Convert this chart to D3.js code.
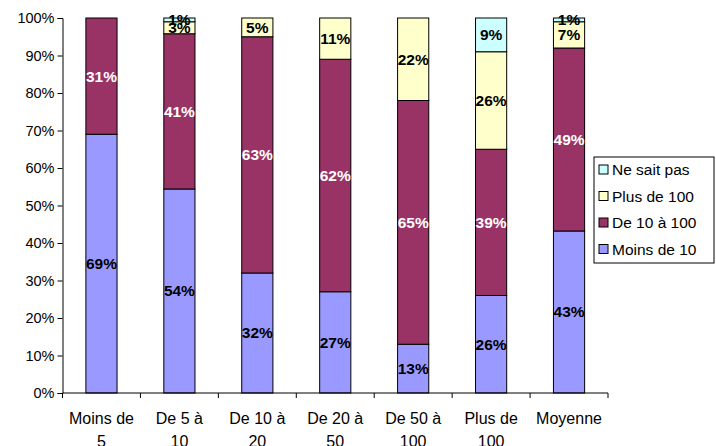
<!DOCTYPE html>
<html>
<head>
<meta charset="utf-8">
<script src="https://cdn.jsdelivr.net/npm/d3@7/dist/d3.min.js"></script>
<style>
  body { margin: 0; background: #fff; }
  svg { display: block; font-family: "Liberation Sans", Arial, sans-serif; }
</style>
</head>
<body>
<svg></svg>
<script>
// categories and series (percentages)
let categories = [["Moins de", "5"], ["De 5 à", "10"], ["De 10 à", "20"], ["De 20 à", "50"], ["De 50 à", "100"], ["Plus de", "100"], ["Moyenne", ""]];
let seriesNames = ["Moins de 10", "De 10 à 100", "Plus de 100", "Ne sait pas"];
let moinsDe10 = [69, 54.4, 32, 27, 13, 26, 43.2];
let de10a100 = [31, 41.4, 63, 62, 65, 39, 48.8];
let plusDe100 = [0, 3.2, 5, 11, 22, 26, 7];
let neSaitPas = [0, 1, 0, 0, 0, 9, 1];
let yTicks = [0, 10, 20, 30, 40, 50, 60, 70, 80, 90, 100];

let colors = ["#9999FF", "#993366", "#FFFFCC", "#CCFFFF"];
let textColors = ["#000", "#fff", "#000", "#000"];

let svgWidth = 716;
let svgHeight = 446;

let svg = d3.select("svg")
	.attr("width", svgWidth)
	.attr("height", svgHeight);

let x0 = 62.5, x1 = 608, yTop = 18, yBottom = 393;

let xScale = d3.scaleBand()
	.domain(d3.range(categories.length))
	.range([x0, x1])
	.paddingInner(0.6)
	.paddingOuter(0.3);

let yScale = d3.scaleLinear()
	.domain([0, 100])
	.range([yBottom, yTop]);

let allSeries = [moinsDe10, de10a100, plusDe100, neSaitPas];
let rows = categories.map(function (c, i) {
	let r = {};
	seriesNames.forEach(function (s, k) { r[s] = allSeries[k][i]; });
	r.i = i;
	return r;
});

let stacked = d3.stack().keys(seriesNames)(rows);

// bars
let groups = svg.selectAll("g.serie")
	.data(stacked)
	.enter()
	.append("g")
	.attr("class", "serie");

function segments(d, k) {
	return d.map(function (p) { p.k = k; return p; }).filter(function (p) { return p[1] - p[0] > 0; });
}

groups.selectAll("rect")
	.data(segments)
	.enter()
	.append("rect")
	.attr("x", function (d) { return xScale(d.data.i); })
	.attr("width", xScale.bandwidth())
	.attr("y", function (d) { return yScale(d[1]); })
	.attr("height", function (d) { return yScale(d[0]) - yScale(d[1]); })
	.attr("fill", function (d) { return colors[d.k]; })
	.attr("stroke", "#000")
	.attr("stroke-width", 1);

// labels
groups.selectAll("text")
	.data(segments)
	.enter()
	.append("text")
	.text(function (d) { return Math.round(d[1] - d[0]) + "%"; })
	.attr("x", function (d) { return xScale(d.data.i) + xScale.bandwidth() / 2; })
	.attr("y", function (d) { return yScale((d[0] + d[1]) / 2); })
	.attr("dy", "0.35em")
	.attr("text-anchor", "middle")
	.attr("font-size", 15.5)
	.attr("font-weight", "bold")
	.attr("fill", function (d) { return textColors[d.k]; });

// y axis
let yAxis = d3.axisLeft(yScale)
	.tickValues(yTicks)
	.tickSize(5)
	.tickFormat(function (d) { return d + "%"; });

svg.append("g")
	.attr("transform", "translate(" + x0 + ",0)")
	.call(yAxis)
	.call(function (g) {
		g.select(".domain").attr("stroke", "#000");
		g.selectAll(".tick line").attr("stroke", "#000");
		g.selectAll("text").attr("font-size", 14.5).attr("fill", "#000")
			.attr("font-family", "Liberation Sans, Arial, sans-serif").attr("x", -8);
	});

// x axis
let xAxisG = svg.append("g");
xAxisG.append("line")
	.attr("x1", x0).attr("x2", x1)
	.attr("y1", yBottom).attr("y2", yBottom)
	.attr("stroke", "#000");

let step = xScale.step();
xAxisG.selectAll("line.tick")
	.data(d3.range(categories.length + 1))
	.enter()
	.append("line")
	.attr("class", "tick")
	.attr("x1", function (d) { return x0 + step * d; })
	.attr("x2", function (d) { return x0 + step * d; })
	.attr("y1", yBottom).attr("y2", yBottom + 5)
	.attr("stroke", "#000");

let catLabels = xAxisG.selectAll("text")
	.data(categories)
	.enter()
	.append("text")
	.attr("text-anchor", "middle")
	.attr("font-size", 16)
	.attr("fill", "#000");

catLabels.selectAll("tspan")
	.data(function (d, i) { return d.map(function (line, j) { return { line: line, i: i, j: j }; }); })
	.enter()
	.append("tspan")
	.attr("x", function (d) { return xScale(d.i) + xScale.bandwidth() / 2; })
	.attr("y", function (d) { return 424 + d.j * 23; })
	.text(function (d) { return d.line; });

// legend
let legend = svg.append("g").attr("transform", "translate(594,157)");
legend.append("rect")
	.attr("width", 120).attr("height", 106)
	.attr("fill", "#fff").attr("stroke", "#000");

let legendOrder = [3, 2, 1, 0];
let items = legend.selectAll("g.item")
	.data(legendOrder)
	.enter()
	.append("g")
	.attr("class", "item")
	.attr("transform", function (d, i) { return "translate(5," + (13 + i * 26.5) + ")"; });

items.append("rect")
	.attr("x", 0).attr("y", -5)
	.attr("width", 9).attr("height", 9)
	.attr("fill", function (d) { return colors[d]; })
	.attr("stroke", "#000");

items.append("text")
	.attr("x", 13).attr("y", 0)
	.attr("dy", "0.35em")
	.attr("font-size", 15.5)
	.text(function (d) { return seriesNames[d]; });
</script>
</body>
</html>
